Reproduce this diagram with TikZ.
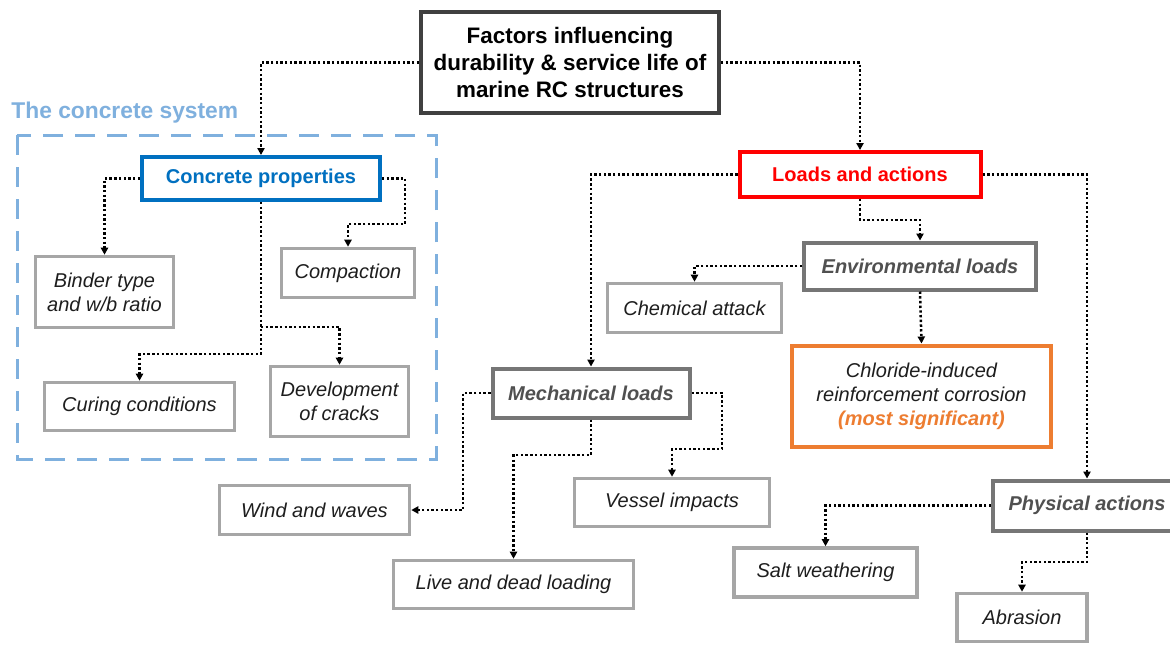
\documentclass[tikz,border=0pt]{standalone}
\usepackage{fontspec}
\setmainfont{Liberation Sans}
\usetikzlibrary{arrows.meta}
\definecolor{topc}{HTML}{404040}
\definecolor{lg}{HTML}{A6A6A6}
\definecolor{mg}{HTML}{767676}
\definecolor{mt}{HTML}{505050}
\definecolor{txt}{HTML}{1E1E1E}
\definecolor{cblue}{HTML}{0070C0}
\definecolor{lblue}{HTML}{7FB0DE}
\definecolor{cred}{HTML}{FF0000}
\definecolor{corange}{HTML}{ED7D31}
\begin{document}
\begin{tikzpicture}[x=0.5pt,y=-0.5pt,
  wh/.style 2 args={minimum width=#1*0.5pt, minimum height=#2*0.5pt},
  box/.style={draw, line width=1.8pt, fill=white, align=center, inner sep=0pt,
    font=\fontsize{10}{12}\selectfont\itshape, text=txt},
  leaf/.style={box, draw=lg},
  mid/.style={box, draw=mg, line width=2pt, font=\fontsize{10}{12}\selectfont\bfseries\itshape, text=mt},
  conn/.style={line width=1.25pt, dash pattern=on 1.2pt off 1.15pt,
    -{Triangle[length=3.5pt,width=3.6pt]}},
]
\clip (0,0) rectangle (1170,644);
\fill[white] (0,0) rectangle (1170,644);

% concrete system frame
\draw[lblue, line width=1.5pt, dash pattern=on 10pt off 6pt] (17,135) rectangle (436,459);
\node[anchor=west, text=lblue, font=\fontsize{11.4}{13}\selectfont\bfseries, inner sep=0pt] (sys) at (11,113) {The concrete system};

% nodes
\node[box, draw=topc, line width=2pt, wh={298}{101}, text=black,
  font=\fontsize{11.2}{13.6}\selectfont\bfseries] (top) at (570,62.5)
  {Factors influencing\\durability \& service life of\\marine RC structures};
\node[box, draw=cblue, line width=2pt, wh={238}{43}, text=cblue,
  font=\fontsize{10}{12}\selectfont\bfseries] (cp) at (261,178.5) {Concrete properties};
\node[leaf, wh={138}{71}] (binder) at (104.5,292) {Binder type\\and w/b ratio};
\node[leaf, wh={133}{49}] (comp) at (348,273) {Compaction};
\node[leaf, wh={190}{48}] (curing) at (139.5,406.5) {Curing conditions};
\node[leaf, wh={138}{70}] (cracks) at (339.5,401.5) {Development\\of cracks};

\node[box, draw=cred, line width=2pt, wh={241}{45}, text=cred,
  font=\fontsize{10}{12}\selectfont\bfseries] (loads) at (860,174.5) {Loads and actions};
\node[mid, wh={232}{47}] (env) at (920,266) {Environmental loads};
\node[leaf, wh={174}{49}] (chem) at (694.5,308) {Chemical attack};
\node[box, draw=corange, line width=2pt, wh={259}{101}] (chl) at (921.5,396)
  {Chloride-induced\\reinforcement corrosion\\{\color{corange}\bfseries(most significant)}};
\node[mid, wh={197}{49}] (mech) at (591,393) {Mechanical loads};
\node[leaf, wh={195}{48}] (vessel) at (672,502.5) {Vessel impacts};
\node[leaf, wh={190}{49}] (wind) at (314.5,510) {Wind and waves};
\node[leaf, wh={240}{48}] (live) at (513.5,584.5) {Live and dead loading};
\node[mid, wh={188}{50}] (phys) at (1087,505.5) {Physical actions};
\node[leaf, wh={183}{49}] (salt) at (825.5,572.5) {Salt weathering};
\node[leaf, wh={130}{48}] (abr) at (1022,617.5) {Abrasion};

% connectors
\draw[conn] (top.west) -| (cp.north);
\draw[conn] (top.east) -| (loads.north);
\draw[conn] (cp.west) -| (binder.north);
\draw[conn] (cp.east) -| (405,224) -| (comp.north);
\draw[conn] (cp.south) -- (261,354) -| (curing.north);
\draw[conn] (261,327) -| (cracks.north);
\draw[conn] (loads.south) -- (860,220) -| (env.north);
\draw[conn] (loads.west) -| (mech.north);
\draw[conn] (loads.east) -| (phys.north);
\draw[conn] (env.west) -| (chem.north);
\draw[conn] (env.south) -- (chl.north);
\draw[conn] (mech.west) -- (463,393) |- (wind.east);
\draw[conn] (mech.east) -| (722,449) -| (vessel.north);
\draw[conn] (mech.south) -- (591,455) -| (live.north);
\draw[conn] (phys.west) -| (salt.north);
\draw[conn] (phys.south) -- (1087,562) -| (abr.north);
\end{tikzpicture}
\end{document}
